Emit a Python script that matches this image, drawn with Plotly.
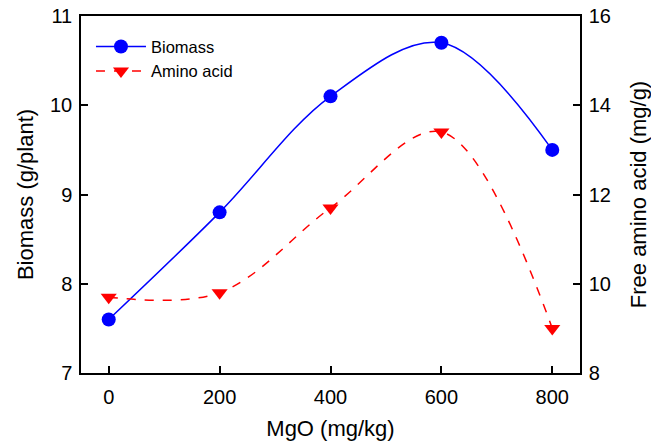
import plotly.graph_objects as go

mgo = [0, 200, 400, 600, 800]
biomass = [7.6, 8.8, 10.1, 10.7, 9.5]
amino_acid = [9.7, 9.8, 11.7, 13.4, 9.0]

x_ticks = [0, 200, 400, 600, 800]
y1_ticks = [7, 8, 9, 10, 11]
y2_ticks = [8, 10, 12, 14, 16]

FONT = "Liberation Sans, Arial, sans-serif"

fig = go.Figure()
fig.add_trace(go.Scatter(
    x=mgo, y=biomass, name="Biomass", mode="lines+markers",
    line=dict(color="#0000FF", width=1.5, shape="spline", smoothing=1.0),
    marker=dict(symbol="circle", size=14, color="#0000FF"),
))
fig.add_trace(go.Scatter(
    x=mgo, y=amino_acid, name="Amino acid", mode="lines+markers", yaxis="y2",
    line=dict(color="#FF0000", width=1.5, dash="dash", shape="spline", smoothing=1.0),
    marker=dict(symbol="triangle-down", size=14, color="#FF0000"),
))

axis_common = dict(showgrid=False, zeroline=False, showline=True, linecolor="black",
                   linewidth=1.5, ticks="inside", ticklen=7, tickwidth=1.5,
                   automargin=False,
                   tickcolor="black", tickfont=dict(size=20, color="black", family=FONT))

fig.update_layout(
    width=651, height=445,
    margin=dict(l=81, r=71, t=16, b=72),
    paper_bgcolor="white", plot_bgcolor="white",
    font=dict(family=FONT, color="black"),
    xaxis=dict(range=[-50, 850], tickvals=x_ticks, mirror=True, ticklabelstandoff=5,
               title=dict(text="MgO (mg/kg)", font=dict(size=22), standoff=14),
               **axis_common),
    yaxis=dict(range=[7, 11], tickvals=y1_ticks, ticklabelstandoff=3,
               title=dict(text="Biomass (g/plant)", font=dict(size=22), standoff=10),
               **axis_common),
    yaxis2=dict(range=[8, 16], tickvals=y2_ticks, overlaying="y", side="right",
                ticklabelstandoff=3,
                title=dict(text="Free amino acid (mg/g)", font=dict(size=22), standoff=21),
                **axis_common),
    legend=dict(x=0.02, y=0.963, xanchor="left", yanchor="top",
                bgcolor="rgba(0,0,0,0)", font=dict(size=16.5, color="black"),
                tracegroupgap=0, itemwidth=50),
    showlegend=True,
)

fig.write_html("out.html")
